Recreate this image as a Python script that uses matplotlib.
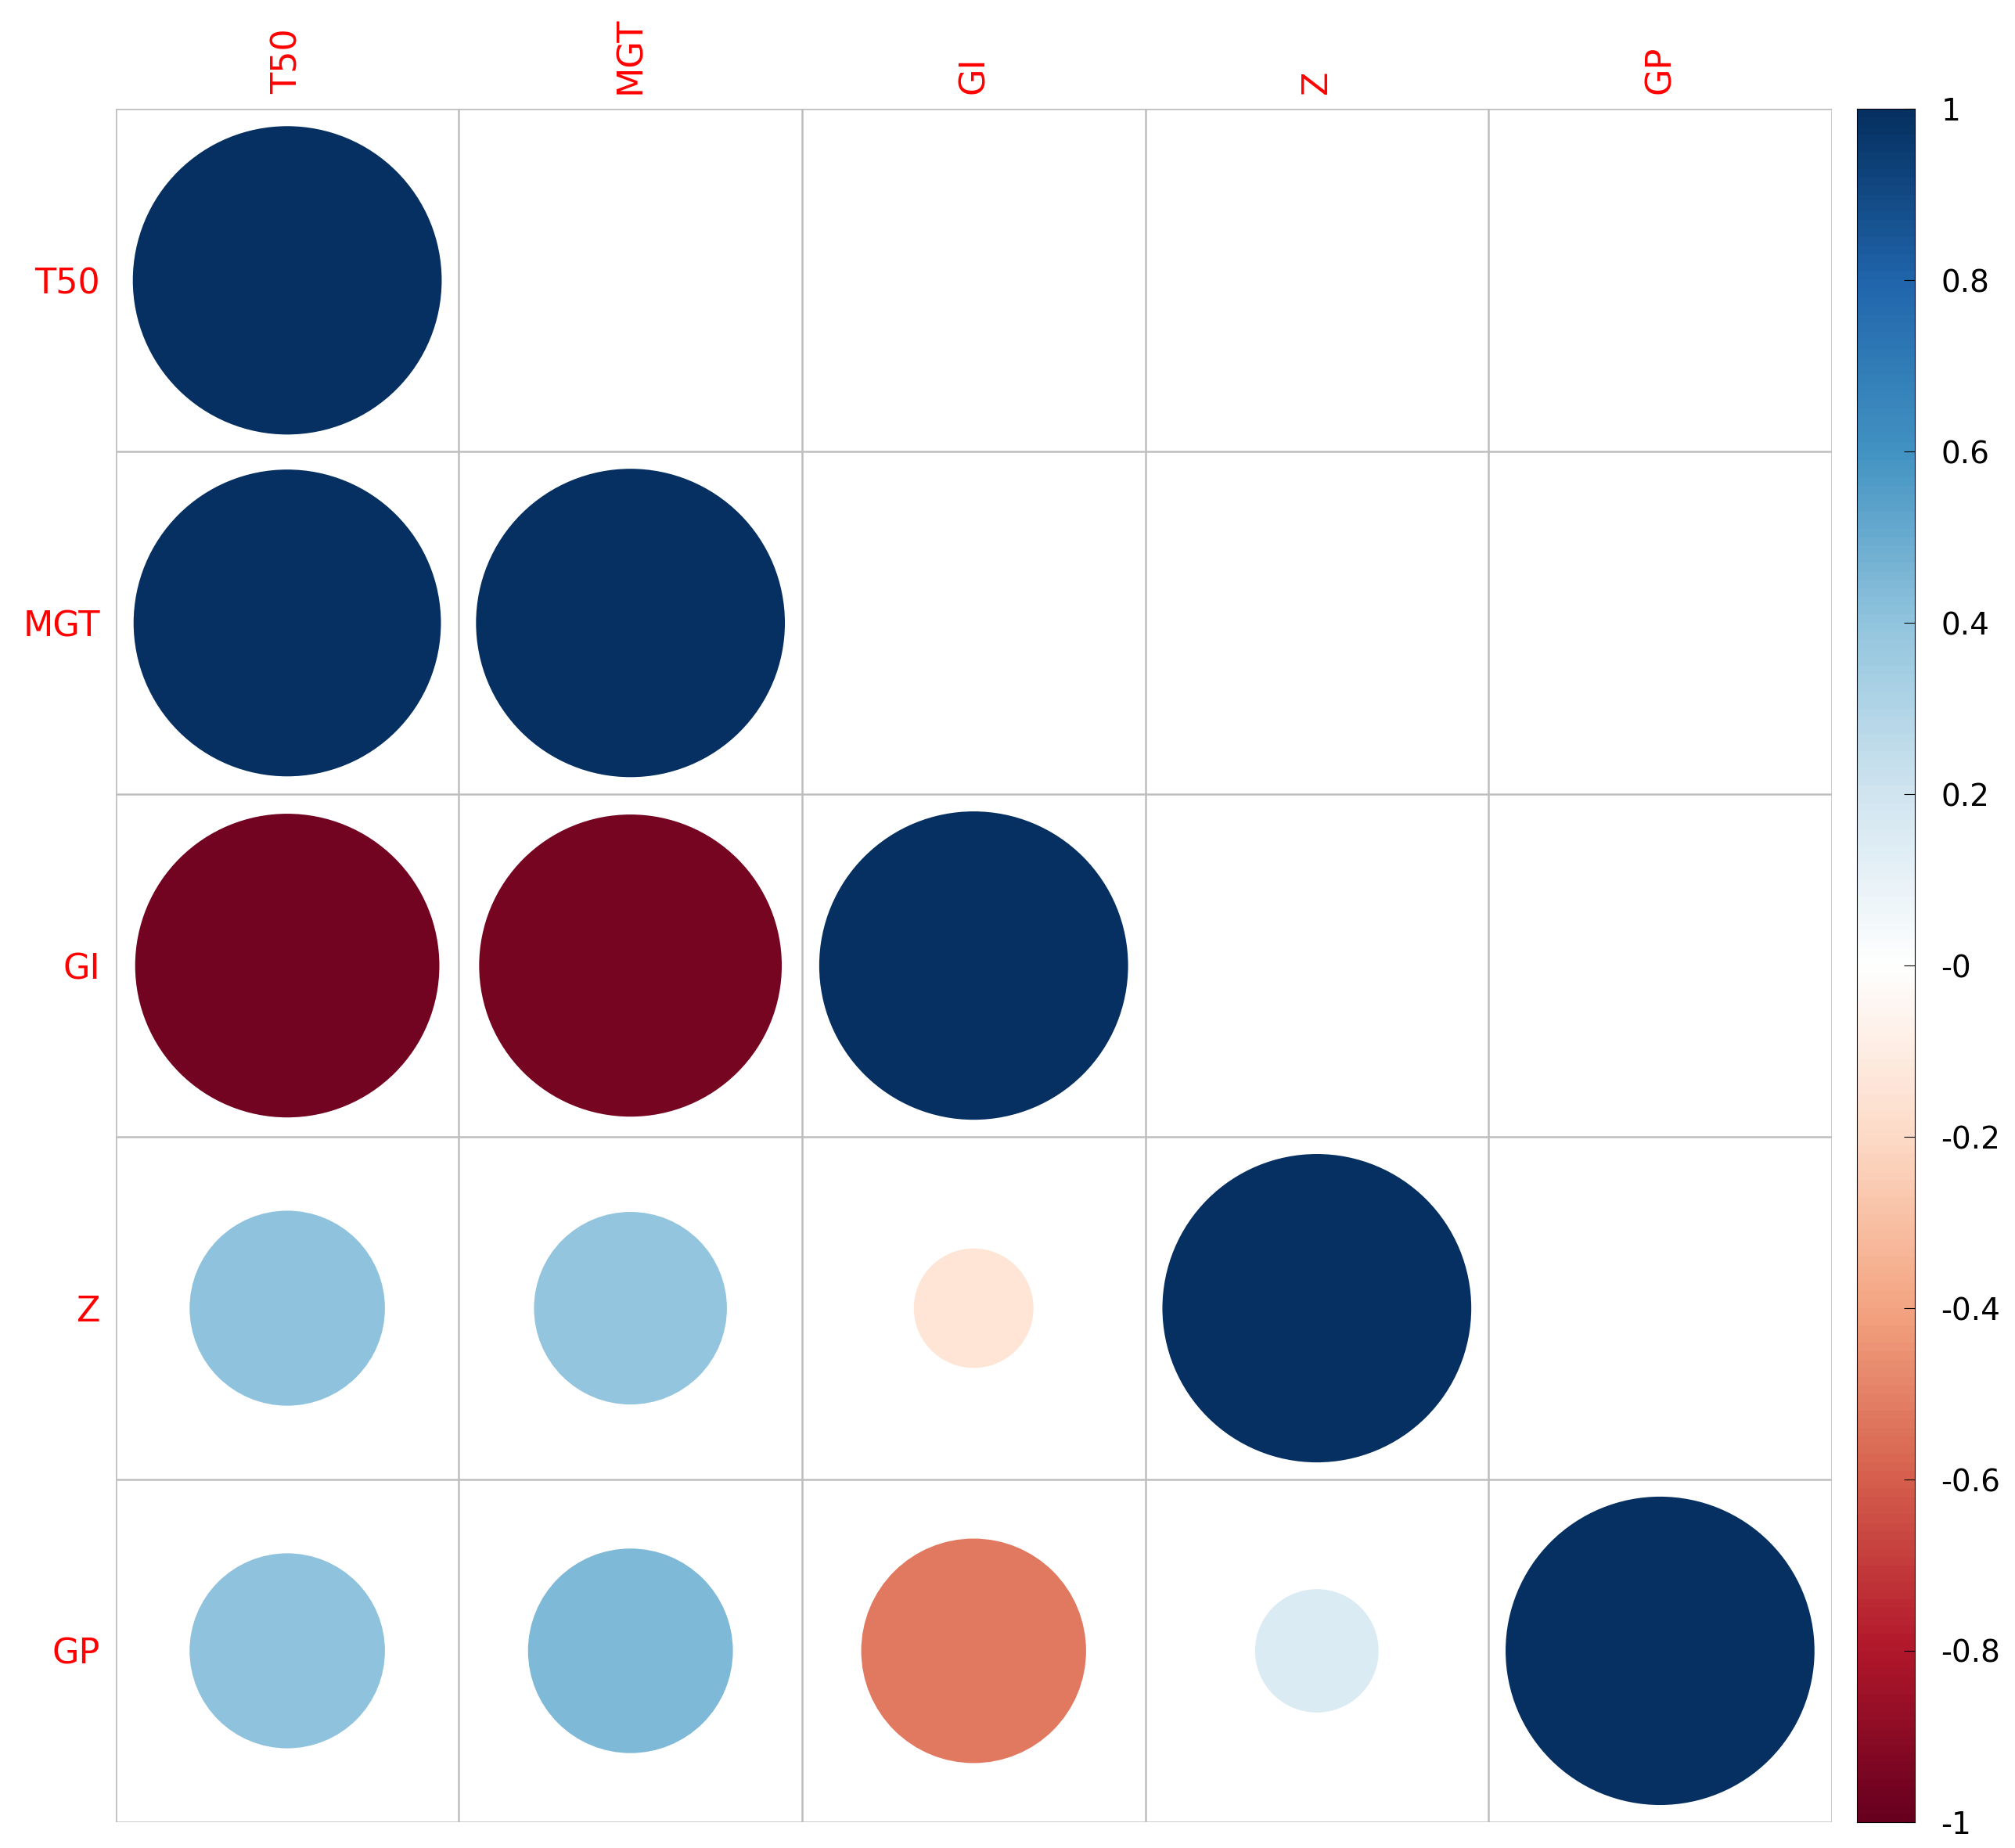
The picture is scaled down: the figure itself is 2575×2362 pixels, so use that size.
import matplotlib.pyplot as plt
import matplotlib.patches as mpatches
import matplotlib.colors as mcolors
import numpy as np

labels = ['T50', 'MGT', 'GI', 'Z', 'GP']
# lower triangle of the correlation matrix, row by row
corr = np.array([
    [1.00, 0, 0, 0, 0],
    [0.99, 1.00, 0, 0, 0],
    [-0.97, -0.96, 1.00, 0, 0],
    [0.40, 0.39, -0.15, 1.00, 0],
    [0.40, 0.44, -0.53, 0.16, 1.00],
])

col2 = ["#67001F", "#B2182B", "#D6604D", "#F4A582", "#FDDBC7", "#FFFFFF",
        "#D1E5F0", "#92C5DE", "#4393C3", "#2166AC", "#053061"]
cmap = mcolors.LinearSegmentedColormap.from_list('rdbu', col2, N=200)
norm = mcolors.Normalize(-1, 1)

fig = plt.figure(figsize=(25.75, 23.62), dpi=100)
ax = fig.add_axes([0.0574, 0.014, 0.8516, 0.927])
n = len(labels)
for i in range(n):
    for j in range(i + 1):
        r = corr[i, j]
        ax.add_patch(mpatches.Circle((j + 0.5, n - i - 0.5), 0.45 * np.sqrt(abs(r)),
                                     facecolor=cmap(norm(r)), edgecolor='none'))
for k in range(n + 1):
    ax.axhline(k, color='#BEBEBE', lw=1.8)
    ax.axvline(k, color='#BEBEBE', lw=1.8)
ax.set_xlim(0, n)
ax.set_ylim(0, n)
ax.set_xticks(np.arange(n) + 0.5)
ax.set_xticklabels(labels, rotation=90, color='red', fontsize=32)
ax.xaxis.tick_top()
ax.set_yticks(np.arange(n) + 0.5)
ax.set_yticklabels(labels[::-1], color='red', fontsize=32)
ax.tick_params(length=0, pad=14)
for s in ax.spines.values():
    s.set_visible(False)

cax = fig.add_axes([0.9216, 0.014, 0.0287, 0.927])
grad = np.linspace(-1, 1, 200).reshape(-1, 1)
cax.imshow(grad, cmap=cmap, norm=norm, aspect='auto', origin='lower', extent=[0, 1, -1, 1])
cax.set_xticks([])
cax.yaxis.tick_right()
ticks = np.round(np.arange(-1, 1.01, 0.2), 1)
cax.set_yticks(ticks)
cax.set_yticklabels(['%g' % t for t in ticks], fontsize=28)
cax.tick_params(axis='y', direction='in', length=10, pad=24)
for s in cax.spines.values():
    s.set_color('black')

fig.savefig('out.png', dpi=100)
